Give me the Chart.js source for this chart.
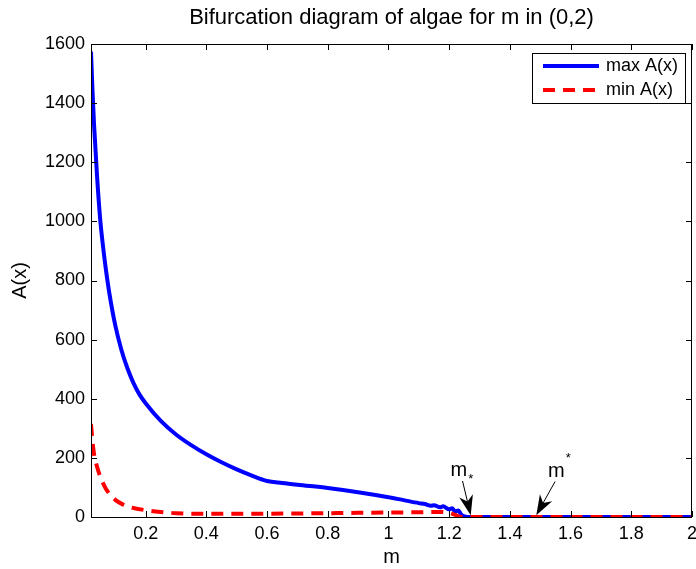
<!DOCTYPE html>
<html>
<head>
<meta charset="utf-8">
<script src="https://cdn.jsdelivr.net/npm/chart.js@4.4.1/dist/chart.umd.min.js"></script>
<style>
  html, body { margin: 0; padding: 0; background: #fff; }
  #wrap { width: 696px; height: 569px; }
</style>
</head>
<body>
<div id="wrap"><canvas id="chart" width="696" height="569"></canvas></div>
<script>
// --- DATA ---
const titleText = 'Bifurcation diagram of algae for m in (0,2)';
const xTitle = 'm';
const yTitle = 'A(x)';
const seriesLabels = ['max A(x)', 'min A(x)'];

const xTicks = [0.2, 0.4, 0.6, 0.8, 1, 1.2, 1.4, 1.6, 1.8, 2];
const yTicks = [0, 200, 400, 600, 800, 1000, 1200, 1400, 1600];

// max A(x) branch
const maxM = [0.02, 0.025, 0.03, 0.04, 0.05, 0.06, 0.07, 0.08, 0.1, 0.12, 0.14, 0.16, 0.18, 0.2, 0.25, 0.3, 0.35, 0.4, 0.45, 0.5, 0.55, 0.6,
              0.65, 0.7, 0.8, 0.9, 1.0, 1.05, 1.1, 1.12, 1.14, 1.15, 1.17, 1.18, 1.2, 1.21, 1.22, 1.23, 1.24, 1.25, 1.26, 2.0];
const maxA = [1574, 1440, 1328, 1152, 1010, 912, 830, 760, 648, 566, 503, 453, 414, 385, 325, 279, 243, 212, 185, 161, 140, 122,
              115, 109, 98, 84, 67, 57, 47, 44, 38, 40, 33, 36, 26, 30, 18, 22, 8, 2, 0, 0];

// min A(x) branch
const minM = [0.02, 0.025, 0.03, 0.04, 0.05, 0.06, 0.07, 0.08, 0.1, 0.126, 0.15, 0.2, 0.25, 0.3, 0.4, 0.5, 0.7, 0.9, 1.0, 1.1, 1.17, 1.2, 1.22, 1.24, 2.0];
const minA = [315, 255, 213, 170, 138, 114, 94, 79, 58, 42, 33, 23, 17, 13, 11, 11, 12, 14, 15, 16, 17, 14, 7, 0, 0];

// arrow annotations (data coordinates)
const notes = [
    { text: 'm', mark: '*', sub: true,  at: [1.232, 158], from: [1.244, 122], to: [1.271, 6] },
    { text: 'm', mark: '*', sub: false, at: [1.553, 155], from: [1.549, 120], to: [1.487, 6] }
];

// --- STYLE ---
const FONT = '"Liberation Sans", Arial, Helvetica, sans-serif';
const BLUE = '#0000ff';
const RED = '#ff0000';
const DASH = [12, 8];

// --- MATLAB-LIKE FRAME, LEGEND, TITLE, NOTES ---
const matlabFrame = {
    id: 'matlabFrame',
    afterDatasetsDraw(chart) {
        const { ctx, chartArea: a, scales: { x, y } } = chart;
        ctx.save();

        // axes box
        ctx.strokeStyle = '#000';
        ctx.lineWidth = 1;
        ctx.strokeRect(a.left + 0.5, a.top + 0.5, a.right - a.left - 1, a.bottom - a.top);

        // inward ticks on all four sides
        const tl = 6;
        ctx.beginPath();
        xTicks.forEach(v => {
            const px = Math.round(x.getPixelForValue(v)) + 0.5;
            ctx.moveTo(px, a.bottom); ctx.lineTo(px, a.bottom - tl);
            ctx.moveTo(px, a.top); ctx.lineTo(px, a.top + tl);
        });
        yTicks.forEach(v => {
            const py = Math.round(y.getPixelForValue(v)) + 0.5;
            ctx.moveTo(a.left, py); ctx.lineTo(a.left + tl, py);
            ctx.moveTo(a.right, py); ctx.lineTo(a.right - tl, py);
        });
        ctx.stroke();

        // annotations with arrows
        ctx.fillStyle = '#000';
        notes.forEach(n => {
            const tx = x.getPixelForValue(n.at[0]), ty = y.getPixelForValue(n.at[1]);
            ctx.font = `20px ${FONT}`;
            ctx.textAlign = 'center';
            ctx.textBaseline = 'middle';
            ctx.fillText(n.text, tx, ty);
            ctx.font = `13px ${FONT}`;
            ctx.fillText(n.mark, tx + 12, n.sub ? ty + 9 : ty - 13);

            const x0 = x.getPixelForValue(n.from[0]), y0 = y.getPixelForValue(n.from[1]);
            const x1 = x.getPixelForValue(n.to[0]), y1 = y.getPixelForValue(n.to[1]);
            const ang = Math.atan2(y1 - y0, x1 - x0);
            const c = Math.cos(ang), s = Math.sin(ang);
            const hl = 20, hw = 7;
            ctx.beginPath();
            ctx.moveTo(x0, y0);
            ctx.lineTo(x1 - hl * 0.7 * c, y1 - hl * 0.7 * s);
            ctx.stroke();
            ctx.beginPath();
            ctx.moveTo(x1, y1);
            ctx.lineTo(x1 - hl * c + hw * s, y1 - hl * s - hw * c);
            ctx.lineTo(x1 - hl * 0.7 * c, y1 - hl * 0.7 * s);
            ctx.lineTo(x1 - hl * c - hw * s, y1 - hl * s + hw * c);
            ctx.closePath();
            ctx.fill();
        });

        // legend box
        const bx = a.right - 160, by = a.top + 9, bw = 153, bh = 50;
        ctx.fillStyle = '#fff';
        ctx.fillRect(bx, by, bw, bh);
        ctx.strokeRect(bx + 0.5, by + 0.5, bw, bh);
        const colors = [BLUE, RED];
        seriesLabels.forEach((lab, i) => {
            const ly = by + 13 + i * 24;
            ctx.strokeStyle = colors[i];
            ctx.lineWidth = 4;
            ctx.setLineDash(i === 1 ? DASH : []);
            ctx.beginPath();
            ctx.moveTo(bx + 11, ly); ctx.lineTo(bx + 67, ly);
            ctx.stroke();
            ctx.setLineDash([]);
            ctx.fillStyle = '#000';
            ctx.font = `18px ${FONT}`;
            ctx.textAlign = 'left';
            ctx.textBaseline = 'middle';
            ctx.fillText(lab, bx + 74, ly);
        });

        // title centred over the axes
        ctx.fillStyle = '#000';
        ctx.font = `22px ${FONT}`;
        ctx.textAlign = 'center';
        ctx.textBaseline = 'middle';
        ctx.fillText(titleText, (a.left + a.right) / 2, 18);

        ctx.restore();
    }
};

const tickFont = { family: FONT, size: 18 };
const titleFont = { family: FONT, size: 20 };

new Chart(document.getElementById('chart'), {
    type: 'line',
    data: {
        datasets: [
            {
                label: seriesLabels[0],
                data: maxM.map((m, i) => ({ x: m, y: maxA[i] })),
                borderColor: BLUE,
                borderWidth: 4,
                pointRadius: 0,
                cubicInterpolationMode: 'monotone',
                order: 2
            },
            {
                label: seriesLabels[1],
                data: minM.map((m, i) => ({ x: m, y: minA[i] })),
                borderColor: RED,
                borderWidth: 4,
                borderDash: DASH,
                pointRadius: 0,
                cubicInterpolationMode: 'monotone',
                order: 1
            }
        ]
    },
    options: {
        responsive: false,
        animation: false,
        devicePixelRatio: 1,
        layout: { padding: { top: 44, right: 4, left: 0, bottom: 0 } },
        plugins: { legend: { display: false }, title: { display: false }, tooltip: { enabled: false } },
        scales: {
            x: {
                type: 'linear', min: 0.02, max: 2,
                afterBuildTicks: s => { s.ticks = xTicks.map(v => ({ value: v })); },
                afterFit: s => { s.height = 52; s.paddingLeft = 0; s.paddingRight = 0; },
                grid: { display: false, drawTicks: false },
                border: { display: false },
                ticks: { font: tickFont, color: '#000', padding: 6, maxRotation: 0, autoSkip: false, callback: v => String(v) },
                title: { display: true, text: xTitle, font: titleFont, color: '#000', padding: 0 }
            },
            y: {
                type: 'linear', min: 0, max: 1600,
                afterBuildTicks: s => { s.ticks = yTicks.map(v => ({ value: v })); },
                afterFit: s => { s.width = 91; },
                grid: { display: false, drawTicks: false },
                border: { display: false },
                ticks: { font: tickFont, color: '#000', padding: 6, autoSkip: false, callback: v => String(v) },
                title: { display: true, text: yTitle, font: titleFont, color: '#000', padding: { top: 8 } }
            }
        }
    },
    plugins: [matlabFrame]
});
</script>
</body>
</html>
